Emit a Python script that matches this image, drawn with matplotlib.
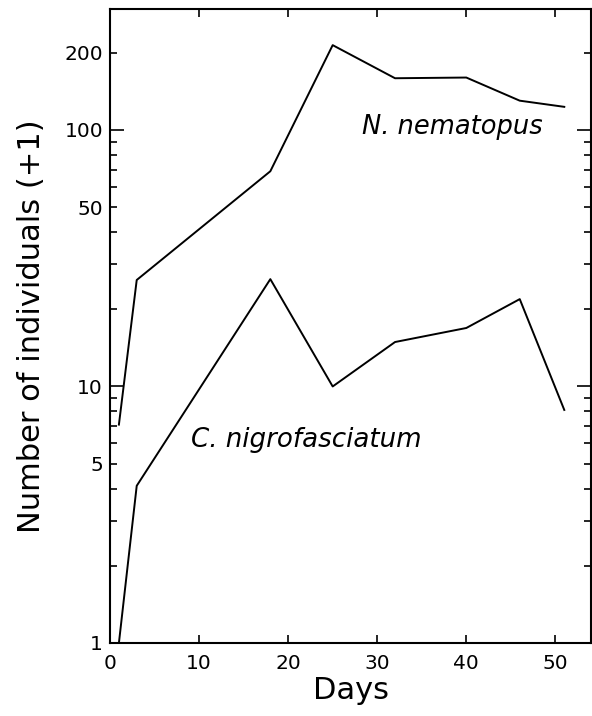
import matplotlib
matplotlib.use("Agg")
import matplotlib.pyplot as plt
from matplotlib.ticker import FixedLocator, FuncFormatter

days = [1, 3, 18, 25, 32, 40, 46, 51]
n_nematopus = [7.1, 26, 69, 214, 159, 160, 130, 123]
c_nigrofasciatum = [1.0, 4.1, 26.2, 10.0, 14.9, 16.9, 21.9, 8.1]

x_ticks = [0, 10, 20, 30, 40, 50]
y_major = [1, 10, 100]
y_minor = [2, 3, 4, 5, 6, 7, 8, 9, 20, 30, 40, 50, 60, 70, 80, 90, 200]
y_labelled = [1, 5, 10, 50, 100, 200]

plt.rcParams['font.family'] = ['DejaVu Sans']

fig = plt.figure(figsize=(5.92, 7.16), dpi=100)
ax = fig.add_axes([110/592, 73/716, 481/592, 634/716])

ax.plot(days, n_nematopus, color='black', lw=1.4)
ax.plot(days, c_nigrofasciatum, color='black', lw=1.4)

ax.set_yscale('log')
ax.set_xlim(0, 54)
ax.set_ylim(1, 296)

ax.xaxis.set_major_locator(FixedLocator(x_ticks))
ax.yaxis.set_major_locator(FixedLocator(y_major))
ax.yaxis.set_minor_locator(FixedLocator(y_minor))
fmt = FuncFormatter(lambda v, p: ('%d' % round(v)) if any(abs(v - t) < 1e-6 for t in y_labelled) else '')
ax.yaxis.set_major_formatter(fmt)
ax.yaxis.set_minor_formatter(fmt)

ax.tick_params(axis='both', which='major', direction='in', top=True, right=True,
               length=10, width=1.2, labelsize=14.5)
ax.tick_params(axis='y', which='minor', direction='in', right=True, left=True,
               length=5, width=1.2, labelsize=14.5)
ax.tick_params(axis='x', which='major', length=5.5, pad=8)
ax.tick_params(axis='y', which='both', pad=5)

for s in ax.spines.values():
    s.set_linewidth(1.5)

ax.set_xlabel('Days', fontsize=22, labelpad=2)
ax.set_ylabel('Number of individuals (+1)', fontsize=22, labelpad=13)

ax.text(38.4, 103, 'N. nematopus', style='italic', fontsize=18.5, ha='center', va='center')
ax.text(22.0, 6.2, 'C. nigrofasciatum', style='italic', fontsize=18.8, ha='center', va='center')

fig.savefig('out.png', dpi=100)
